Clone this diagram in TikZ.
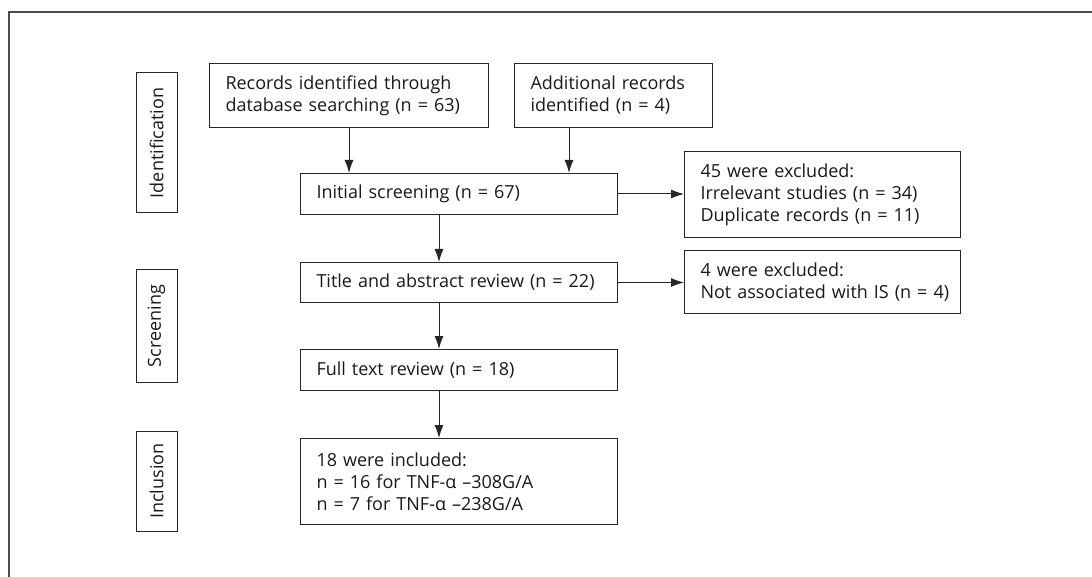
\documentclass[tikz,border=0pt]{standalone}
\usepackage{fontspec}
\setmainfont{Open Sans}
\usetikzlibrary{arrows.meta}

\begin{document}
\begin{tikzpicture}[x=1pt, y=-1pt,
  box/.style={draw=black!85, line width=1pt, anchor=north west, align=left,
    inner xsep=16pt, inner ysep=0pt, text=black!90,
    font=\fontsize{18}{22}\selectfont},
  phase/.style={draw=black!85, line width=1pt, rotate=90, minimum height=41pt,
    inner sep=0pt, text=black!90, font=\fontsize{18}{22}\selectfont},
  arr/.style={draw=black!85, line width=1pt, -{Latex[length=13pt,width=9pt]}}]
  \useasboundingbox (0,0) rectangle (1092,577);
  % outer frame
  \draw[line width=1.3pt, black!70] (9,577) -- (9,12) -- (1092,12);

  % phases
  \node[phase, minimum width=140pt] (ident) at (156.5,143) {Identification};
  \node[phase, minimum width=112pt] (screen) at (156.5,326) {Screening};
  \node[phase, minimum width=100pt] (inclu) at (156.5,481) {Inclusion};

  % boxes
  \node[box, text width=247pt, minimum height=64pt] (rec) at (209,63)
    {Records identified through\\database searching (n = 63)};
  \node[box, text width=166pt, minimum height=64pt] (add) at (514,63)
    {Additional records\\identified (n = 4)};
  \node[box, text width=285pt, minimum height=41pt] (init) at (300,173)
    {Initial screening (n = 67)};
  \node[box, text width=244pt, minimum height=86pt] (excla) at (684,151)
    {45 were excluded:\\Irrelevant studies (n = 34)\\Duplicate records (n = 11)};
  \node[box, text width=285pt, minimum height=40pt] (title) at (300,262)
    {Title and abstract review (n = 22)};
  \node[box, text width=244pt, minimum height=63pt] (exclb) at (684,250)
    {4 were excluded:\\\mbox{Not associated with IS (n = 4)}};
  \node[box, text width=285pt, minimum height=41pt] (full) at (300,349)
    {Full text review (n = 18)};
  \node[box, text width=285pt, minimum height=86pt] (incl) at (300,438)
    {18 were included:\\n = 16 for TNF-α –308G/A\\n = 7 for TNF-α –238G/A};

  % connectors
  \coordinate (addx) at (569,0);
  \coordinate (spine) at (439,0);
  \draw[arr] (rec.south) -- (init.north -| rec.south);
  \draw[arr] (add.south -| addx) -- (init.north -| addx);
  \draw[arr] (init.east) -- (excla.west |- init.east);
  \draw[arr] (title.east) -- (exclb.west |- title.east);
  \draw[arr] (init.south -| spine) -- (title.north -| spine);
  \draw[arr] (title.south -| spine) -- (full.north -| spine);
  \draw[arr] (full.south -| spine) -- (incl.north -| spine);
\end{tikzpicture}
\end{document}
